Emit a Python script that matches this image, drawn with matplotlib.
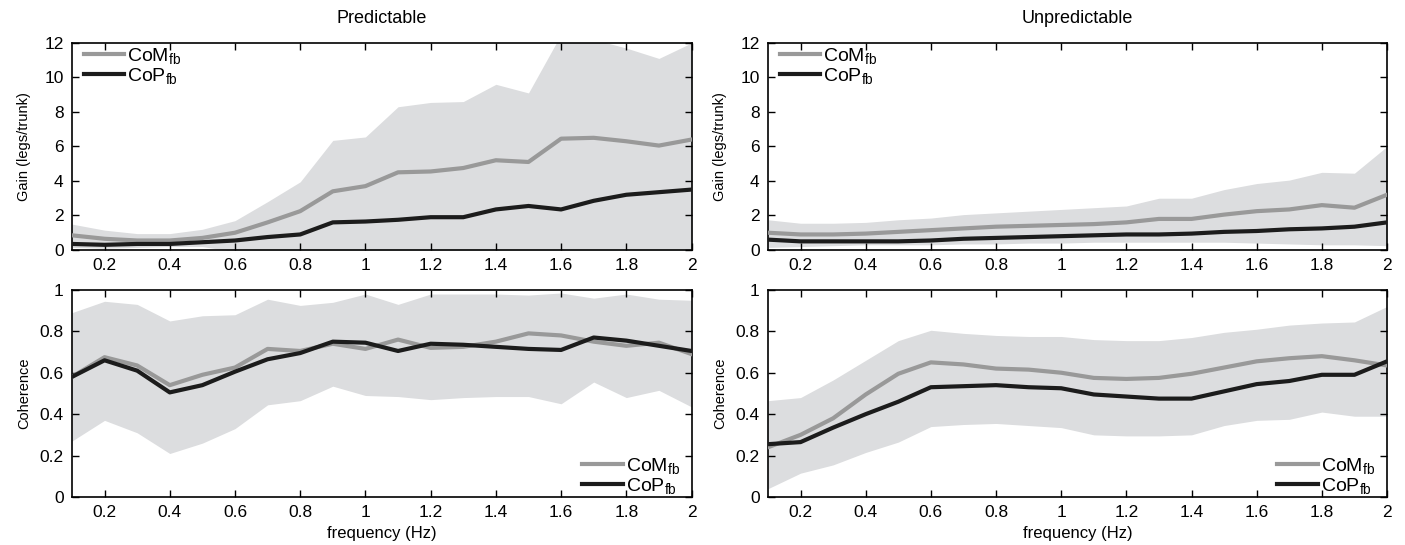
import matplotlib
matplotlib.use('Agg')
import matplotlib.pyplot as plt
import numpy as np

plt.rcParams['font.family'] = ['Liberation Sans Narrow', 'Liberation Sans', 'DejaVu Sans']
plt.rcParams['mathtext.fontset'] = 'custom'
plt.rcParams['mathtext.rm'] = 'Liberation Sans'
plt.rcParams['mathtext.it'] = 'Liberation Sans'

freq = [0.1, 0.2, 0.3, 0.4, 0.5, 0.6, 0.7, 0.8, 0.9, 1.0,
        1.1, 1.2, 1.3, 1.4, 1.5, 1.6, 1.7, 1.8, 1.9, 2.0]

# gain, predictable
gp_com = [0.85, 0.65, 0.55, 0.55, 0.7, 1.0, 1.6, 2.25, 3.4, 3.7,
          4.5, 4.55, 4.75, 5.2, 5.1, 6.45, 6.5, 6.3, 6.05, 6.4]
gp_cop = [0.35, 0.3, 0.35, 0.35, 0.45, 0.55, 0.75, 0.9, 1.6, 1.65,
          1.75, 1.9, 1.9, 2.35, 2.55, 2.35, 2.85, 3.2, 3.35, 3.5]
gp_hi = [1.5, 1.15, 0.95, 0.95, 1.2, 1.7, 2.8, 3.95, 6.35, 6.55,
         8.3, 8.55, 8.6, 9.6, 9.1, 12.5, 12.2, 11.7, 11.1, 12.0]
gp_lo = [0.15, 0.1, 0.15, 0.2, 0.2, -0.1, -0.5, -1.0, -1.0, -1.0,
         -1.0, -1.0, -1.0, -1.0, -1.0, -1.0, -1.0, -1.0, -1.0, -1.0]

# gain, unpredictable
gu_com = [1.0, 0.9, 0.9, 0.95, 1.05, 1.15, 1.25, 1.35, 1.4, 1.45,
          1.5, 1.6, 1.8, 1.8, 2.05, 2.25, 2.35, 2.6, 2.45, 3.2]
gu_cop = [0.6, 0.5, 0.5, 0.5, 0.5, 0.55, 0.65, 0.7, 0.75, 0.8,
          0.85, 0.9, 0.9, 0.95, 1.05, 1.1, 1.2, 1.25, 1.35, 1.6]
gu_hi = [1.75, 1.55, 1.55, 1.6, 1.75, 1.85, 2.05, 2.15, 2.25, 2.35,
         2.45, 2.55, 3.0, 3.0, 3.5, 3.85, 4.05, 4.5, 4.45, 6.0]
gu_lo = [0.15, 0.2, 0.25, 0.3, 0.3, 0.3, 0.35, 0.35, 0.4, 0.4,
         0.45, 0.45, 0.45, 0.45, 0.45, 0.4, 0.35, 0.3, 0.3, 0.25]

# coherence, predictable
cp_com = [0.58, 0.675, 0.635, 0.54, 0.59, 0.625, 0.715, 0.705, 0.74, 0.715,
          0.76, 0.72, 0.725, 0.75, 0.79, 0.78, 0.75, 0.73, 0.745, 0.69]
cp_cop = [0.58, 0.66, 0.61, 0.505, 0.54, 0.605, 0.665, 0.695, 0.75, 0.745,
          0.705, 0.74, 0.735, 0.725, 0.715, 0.71, 0.77, 0.755, 0.73, 0.705]
cp_hi = [0.89, 0.945, 0.93, 0.85, 0.875, 0.88, 0.955, 0.925, 0.94, 0.98,
         0.93, 0.98, 0.98, 0.98, 0.975, 0.985, 0.96, 0.98, 0.955, 0.95]
cp_lo = [0.27, 0.37, 0.31, 0.21, 0.26, 0.33, 0.445, 0.465, 0.535, 0.49,
         0.485, 0.47, 0.48, 0.485, 0.485, 0.45, 0.555, 0.48, 0.515, 0.435]

# coherence, unpredictable
cu_com = [0.24, 0.3, 0.38, 0.495, 0.595, 0.65, 0.64, 0.62, 0.615, 0.6,
          0.575, 0.57, 0.575, 0.595, 0.625, 0.655, 0.67, 0.68, 0.66, 0.635]
cu_cop = [0.255, 0.265, 0.335, 0.4, 0.46, 0.53, 0.535, 0.54, 0.53, 0.525,
          0.495, 0.485, 0.475, 0.475, 0.51, 0.545, 0.56, 0.59, 0.59, 0.655]
cu_hi = [0.465, 0.48, 0.565, 0.66, 0.755, 0.805, 0.79, 0.78, 0.775, 0.775,
         0.76, 0.755, 0.755, 0.77, 0.795, 0.81, 0.83, 0.84, 0.845, 0.92]
cu_lo = [0.04, 0.115, 0.155, 0.215, 0.265, 0.34, 0.35, 0.355, 0.345, 0.335,
         0.3, 0.295, 0.295, 0.3, 0.345, 0.37, 0.375, 0.41, 0.39, 0.39]

band_col = '#dcdddf'
com_col = '#999999'
cop_col = '#1c1c1c'

fig = plt.figure(figsize=(14.05, 5.45), dpi=100)
ax_tl = fig.add_axes([0.0512, 0.5413, 0.441, 0.38])
ax_tr = fig.add_axes([0.5466, 0.5413, 0.4406, 0.38])
ax_bl = fig.add_axes([0.0512, 0.0881, 0.441, 0.38])
ax_br = fig.add_axes([0.5466, 0.0881, 0.4406, 0.38])

panels = [
    (ax_tl, gp_com, gp_cop, gp_hi, gp_lo, 'gain'),
    (ax_tr, gu_com, gu_cop, gu_hi, gu_lo, 'gain'),
    (ax_bl, cp_com, cp_cop, cp_hi, cp_lo, 'coh'),
    (ax_br, cu_com, cu_cop, cu_hi, cu_lo, 'coh'),
]

def fmt(v):
    return ('%.1f' % v).rstrip('0').rstrip('.')

leg_kw = dict(frameon=False, fontsize=14, handlelength=2.1, handletextpad=0.15,
              labelspacing=0.0, borderaxespad=0.2)

for ax, com, cop, hi, lo, kind in panels:
    ax.fill_between(freq, lo, hi, color=band_col, linewidth=0, zorder=1)
    ax.plot(freq, com, color=com_col, lw=3, label=r'CoM$_{\mathrm{fb}}$', zorder=3)
    ax.plot(freq, cop, color=cop_col, lw=3, label=r'CoP$_{\mathrm{fb}}$', zorder=4)
    ax.set_xlim(0.1, 2.0)
    xt = [0.2, 0.4, 0.6, 0.8, 1.0, 1.2, 1.4, 1.6, 1.8, 2.0]
    ax.set_xticks(xt)
    ax.set_xticklabels([fmt(v) for v in xt])
    if kind == 'gain':
        ax.set_ylim(0, 12)
        yt = [0, 2, 4, 6, 8, 10, 12]
        ax.set_yticks(yt)
        ax.set_yticklabels([str(v) for v in yt])
        ax.set_ylabel('Gain (legs/trunk)', fontsize=10.5, family=['Liberation Sans', 'DejaVu Sans'])
        ax.legend(loc='upper left', bbox_to_anchor=(0.0, 1.04), **leg_kw)
    else:
        ax.set_ylim(0, 1)
        yt = [0, 0.2, 0.4, 0.6, 0.8, 1.0]
        ax.set_yticks(yt)
        ax.set_yticklabels([fmt(v) for v in yt])
        ax.set_ylabel('Coherence', fontsize=10.5, family=['Liberation Sans', 'DejaVu Sans'])
        ax.set_xlabel('frequency (Hz)', fontsize=12)
        ax.legend(loc='lower right', bbox_to_anchor=(1.0, -0.05), **leg_kw)
    ax.tick_params(direction='in', top=True, right=True, labelsize=12.5,
                   length=5, width=1, pad=6)
    for s in ax.spines.values():
        s.set_linewidth(1.2)
    ax.yaxis.set_label_coords(-0.066, 0.5)

ax_tl.set_title('Predictable', fontsize=13, pad=14)
ax_tr.set_title('Unpredictable', fontsize=13, pad=14)

fig.savefig('out.png', dpi=100)
